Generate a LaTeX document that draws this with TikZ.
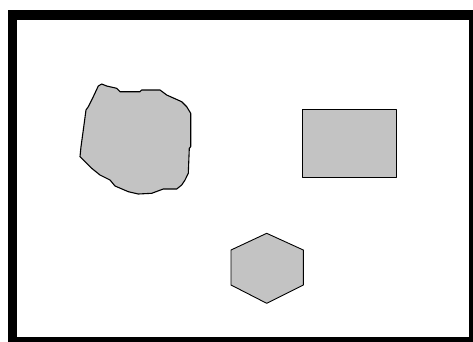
\documentclass[tikz,border=0pt]{standalone}
\definecolor{shapegray}{RGB}{195,195,195}
\tikzset{
  shapefill/.style={fill=shapegray, draw=black, line width=0.9pt, line join=round},
  frameline/.style={draw=black, line width=9.5pt}
}
\begin{document}
\begin{tikzpicture}[x=1pt,y=-1pt]
\useasboundingbox (0,0) rectangle (473,341);
\clip (0,0) rectangle (473,341);
\fill[white] (0,0) rectangle (473,341);
% frame
\draw[frameline] (12.5,15) rectangle (473.5,342);
% blob
\draw[shapefill, line width=1.1pt]
 (101.7,84) -- (106.7,86) -- (116.7,88.3) -- (120,91.7) -- (140,91.7) -- (141.7,90)
 -- (160,90) -- (166.7,95) -- (181.7,101.7) -- (186.7,106.7) -- (190.7,113.3)
 -- (190.7,146.7) -- (189.3,148.3) -- (188.3,173.3) -- (185,180) -- (181.7,185)
 -- (176.7,189) -- (163.3,189) -- (151.7,193.3) -- (138.3,194) -- (128.3,191.7)
 -- (115,186) -- (110,180) -- (100,175) -- (91.7,168.3) -- (81.7,158.3)
 -- (80,156.7) -- (81,146.7) -- (83.3,130) -- (86,110) -- (88.3,106.7)
 -- (93.3,96.7) -- (98.3,86) -- cycle;
% rectangle
\draw[shapefill] (302.7,109) rectangle (396,177.3);
% hexagon
\draw[shapefill] (266.7,233.3) -- (303.3,250) -- (303.3,285) -- (266.7,303.3)
 -- (231,285) -- (231,250) -- cycle;
\end{tikzpicture}
\end{document}
